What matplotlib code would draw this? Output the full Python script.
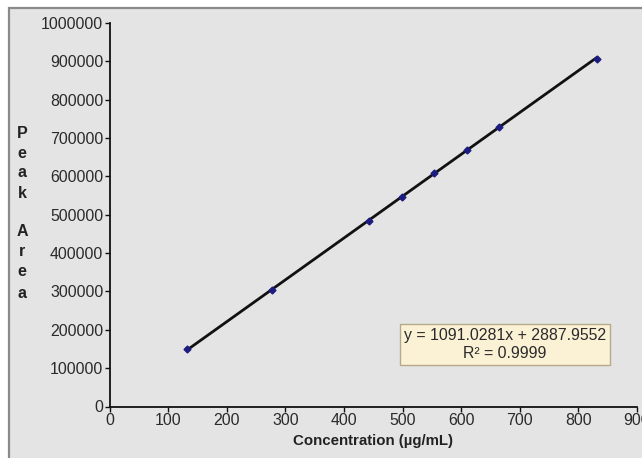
import matplotlib
matplotlib.use("Agg")
import matplotlib.pyplot as plt
from matplotlib.patches import Rectangle
import numpy as np

plt.rcParams['font.family'] = ['Liberation Sans', 'DejaVu Sans']

# Data
concentration = [133, 277, 443, 499, 554, 610, 665, 831]
peak_area = [149000, 304000, 484000, 546000, 608000, 668000, 728000, 906000]
slope = 1091.0281
intercept = 2887.9552
r_squared = "0.9999"
x_ticks = [0, 100, 200, 300, 400, 500, 600, 700, 800, 900]
y_ticks = [0, 100000, 200000, 300000, 400000, 500000, 600000, 700000, 800000, 900000, 1000000]
ylabel_letters = ["P", "e", "a", "k", "A", "r", "e", "a"]
ylabel_ypix = [133, 153, 173, 193, 231, 252, 272, 293]

W, H = 642, 458
fig = plt.figure(figsize=(W / 100, H / 100), dpi=100, facecolor="white")

# chart area with gray frame (right and bottom edges run off the picture)
fig.patches.append(Rectangle((8.5 / W, -0.05), (W + 20) / W, (H - 7.5) / H + 0.05,
                             transform=fig.transFigure, facecolor="#e4e4e4",
                             edgecolor="#8a8a8a", linewidth=1.6, zorder=-10))

ax = fig.add_axes([109.5 / W, 1 - 406.5 / H, (637 - 109.5) / W, (406.5 - 23) / H])
ax.set_zorder(5)
ax.set_facecolor("none")
ax.patch.set_alpha(0)
ax.set_xlim(0, 900)
ax.set_ylim(0, 1000000)
ax.set_xticks(x_ticks)
ax.set_yticks(y_ticks)
ax.set_yticklabels([str(v) for v in y_ticks])
for s in ["top", "right"]:
    ax.spines[s].set_visible(False)
for s in ["left", "bottom"]:
    ax.spines[s].set_color("#111111")
    ax.spines[s].set_linewidth(1.3)
ax.tick_params(axis="both", direction="out", length=3.5, width=1, colors="#111111",
               labelsize=11.4, labelcolor="#2a2a2a")
ax.tick_params(axis="y", pad=1)
ax.tick_params(axis="x", pad=1.5)

# trend line over data range
xs = np.array([min(concentration), max(concentration)])
ax.plot(xs, slope * xs + intercept, color="#111111", linewidth=2.0, zorder=2)
ax.plot(concentration, peak_area, linestyle="none", marker="D", markersize=3.5,
        color="#1c1c80", zorder=3)

ax.set_xlabel("Concentration (µg/mL)", fontsize=10.8, fontweight="bold", labelpad=4,
              color="#222222")

for letter, yp in zip(ylabel_letters, ylabel_ypix):
    fig.text(22 / W, 1 - yp / H, letter, fontsize=11.5, fontweight="bold",
             ha="center", va="center", color="#222222")

fig.text(505 / W, 1 - 344.5 / H,
         f"y = {slope:.4f}x + {intercept:.4f}\nR² = {r_squared}",
         fontsize=11.4, ha="center", va="center", color="#2a2a2a", linespacing=1.2,
         bbox=dict(boxstyle="square,pad=0.28", facecolor="#fbf2d6", edgecolor="#b5a98a",
                   linewidth=1))

fig.savefig("out.png", dpi=100, facecolor="white")
